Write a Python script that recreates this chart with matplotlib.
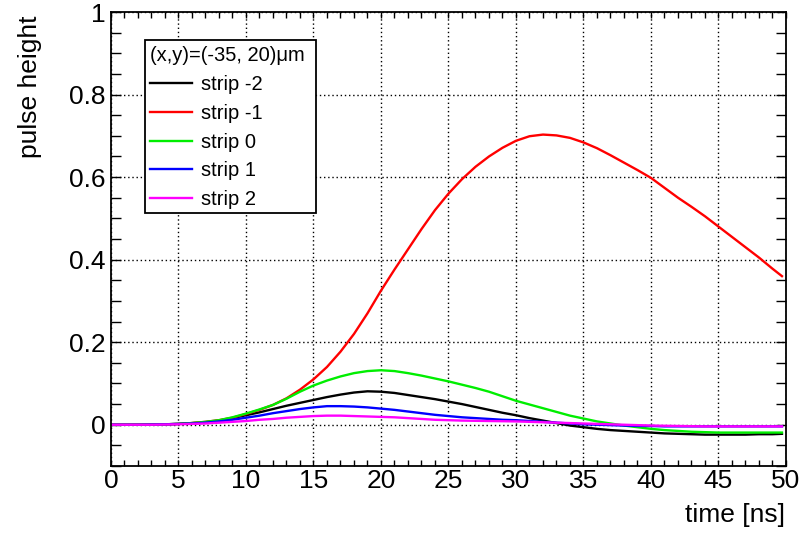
import matplotlib
matplotlib.use("Agg")
import matplotlib.pyplot as plt
from matplotlib.ticker import MultipleLocator
from matplotlib.patches import Rectangle

plt.rcParams['font.family'] = ['Liberation Sans', 'DejaVu Sans']

time_ns = list(range(0, 50)) + [49.7]
strip_m2 = [0, 0, 0, 0.0005, 0.001, 0.002, 0.004, 0.006, 0.010, 0.016,
            0.023, 0.030, 0.038, 0.046, 0.053, 0.060, 0.067, 0.073, 0.078, 0.081,
            0.080, 0.077, 0.072, 0.067, 0.062, 0.056, 0.050, 0.043, 0.036, 0.029,
            0.023, 0.016, 0.010, 0.004, -0.002, -0.006, -0.010, -0.013, -0.015, -0.017,
            -0.019, -0.021, -0.022, -0.023, -0.024, -0.024, -0.024, -0.024, -0.023, -0.023,
            -0.022]
strip_m1 = [0, 0, 0, 0.0005, 0.001, 0.002, 0.004, 0.007, 0.011, 0.017,
            0.026, 0.036, 0.048, 0.064, 0.085, 0.110, 0.140, 0.177, 0.220, 0.270,
            0.325, 0.376, 0.425, 0.474, 0.520, 0.560, 0.595, 0.625, 0.650, 0.671,
            0.688, 0.699, 0.703, 0.701, 0.695, 0.684, 0.670, 0.653, 0.635, 0.617,
            0.598, 0.574, 0.550, 0.528, 0.505, 0.480, 0.455, 0.430, 0.405, 0.378,
            0.360]
strip_0 = [0, 0, 0, 0.0005, 0.001, 0.002, 0.004, 0.007, 0.011, 0.018,
           0.027, 0.037, 0.048, 0.063, 0.080, 0.095, 0.107, 0.117, 0.125, 0.130,
           0.132, 0.130, 0.125, 0.119, 0.112, 0.105, 0.097, 0.089, 0.080, 0.069,
           0.058, 0.049, 0.040, 0.031, 0.022, 0.015, 0.008, 0.003, -0.002, -0.006,
           -0.010, -0.013, -0.015, -0.017, -0.018, -0.019, -0.019, -0.019, -0.019, -0.019,
           -0.019]
strip_1 = [0, 0, 0, 0.0005, 0.001, 0.002, 0.003, 0.005, 0.008, 0.012,
           0.017, 0.022, 0.028, 0.033, 0.038, 0.042, 0.045, 0.045, 0.044, 0.042,
           0.039, 0.036, 0.032, 0.028, 0.024, 0.021, 0.018, 0.016, 0.014, 0.012,
           0.011, 0.009, 0.007, 0.005, 0.003, 0.001, 0.000, -0.001, -0.002, -0.003,
           -0.003, -0.004, -0.004, -0.004, -0.004, -0.004, -0.004, -0.004, -0.004, -0.004,
           -0.004]
strip_2 = [0, 0, 0, 0, 0.0005, 0.001, 0.002, 0.003, 0.005, 0.007,
           0.009, 0.012, 0.014, 0.017, 0.019, 0.021, 0.022, 0.022, 0.021, 0.020,
           0.019, 0.018, 0.016, 0.014, 0.012, 0.011, 0.010, 0.0095, 0.009, 0.0085,
           0.008, 0.007, 0.006, 0.005, 0.004, 0.003, 0.002, 0.001, 0.000, -0.001,
           -0.002, -0.0025, -0.003, -0.0035, -0.004, -0.004, -0.004, -0.004, -0.004, -0.004,
           -0.004]

series = [("strip -2", strip_m2, "#000000"),
          ("strip -1", strip_m1, "#ff0000"),
          ("strip 0", strip_0, "#00ee00"),
          ("strip 1", strip_1, "#0000ff"),
          ("strip 2", strip_2, "#ff00ff")]

fig = plt.figure(figsize=(8.04, 5.33), dpi=100)
ax = fig.add_axes([111/804, 1 - 466/533, (786-111)/804, (466-12)/533])

for label, vals, col in series:
    ax.plot(time_ns, vals, color=col, lw=1.7, label=label, solid_joinstyle='round')

ax.set_xlim(0, 50)
ax.set_ylim(-0.1, 1.0)
ax.xaxis.set_minor_locator(MultipleLocator(1))
ax.yaxis.set_minor_locator(MultipleLocator(0.05))
ax.set_xticks([0, 5, 10, 15, 20, 25, 30, 35, 40, 45, 50])
ax.set_xticklabels(["0", "5", "10", "15", "20", "25", "30", "35", "40", "45", "50"])
ax.set_yticks([0, 0.2, 0.4, 0.6, 0.8, 1.0])
ax.set_yticklabels(["0", "0.2", "0.4", "0.6", "0.8", "1"])
ax.grid(True, which='major', color='black', linestyle=(0, (1, 2)), lw=1.0)
ax.tick_params(which='both', direction='in', top=True, right=True, labelsize=19, width=1.0)
ax.tick_params(axis='x', which='both', length=4.5, pad=2)
ax.tick_params(axis='y', which='both', length=7, pad=4)
for s in ax.spines.values():
    s.set_linewidth(1.3)

# legend frame
x0 = (145 - 111) / 675
x1 = (316 - 111) / 675
y1 = 1 - (40 - 12) / 454
y0 = 1 - (213 - 12) / 454
ax.add_patch(Rectangle((x0, y0), x1 - x0, y1 - y0, transform=ax.transAxes,
                       facecolor='white', edgecolor='black', lw=1.3, zorder=5))

leg = ax.legend(loc='upper left', bbox_to_anchor=((150 - 111) / 675, 1 - (46 - 12) / 454),
                title="(x,y)=(-35, 20)μm",
                fontsize=14.5, title_fontsize=14.5, frameon=False,
                handlelength=2.1, handletextpad=0.45, labelspacing=0.49,
                borderpad=0, borderaxespad=0)
leg._legend_box.align = "left"
leg.set_zorder(6)

fig.text(30/804, 1 - 15/533, "pulse height", rotation=90, ha='center', va='top', fontsize=19)
fig.text(785/804, 1 - 515/533, "time [ns]", ha='right', va='center', fontsize=19)

fig.savefig("out.png", dpi=100)
